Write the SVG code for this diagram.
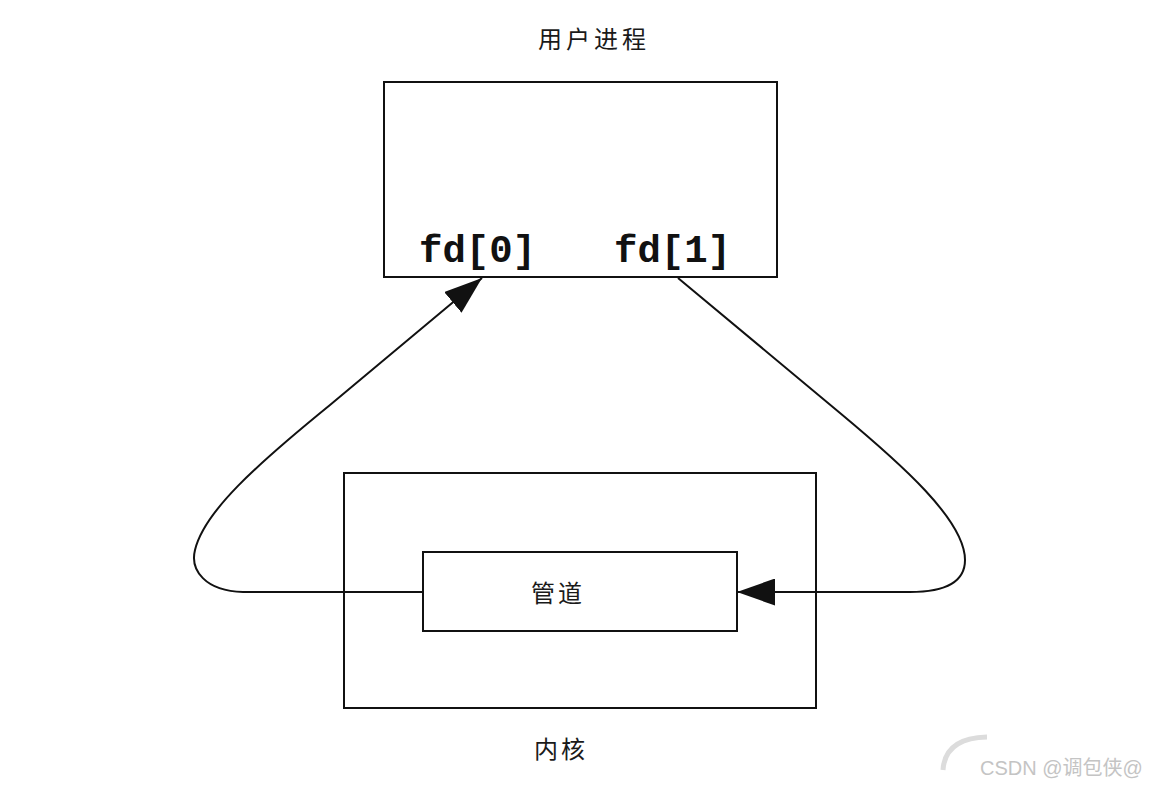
<svg xmlns="http://www.w3.org/2000/svg" width="1154" height="788" viewBox="0 0 1154 788">
<style>
.box{fill:none;stroke:#111;stroke-width:2}
.conn{fill:none;stroke:#111;stroke-width:2}
.cjk{font-family:"Liberation Sans","Noto Sans CJK SC",sans-serif;font-size:24px;fill:#1a1a1a;letter-spacing:3px}
.fd{font-family:"Liberation Mono",monospace;font-weight:bold;font-size:39px;fill:#111}
</style>
<defs>
<marker id="arr" viewBox="0 0 38 27" refX="38" refY="13.5" markerWidth="38" markerHeight="27" markerUnits="userSpaceOnUse" orient="auto">
<path d="M0 0 L38 13.5 L0 27 Z" fill="#111"/>
</marker>
</defs>
<rect width="1154" height="788" fill="#fff"/>
<g id="user-process">
<text class="cjk" x="538" y="48" style="letter-spacing:4px">用户进程</text>
<rect class="box" x="384" y="82" width="393" height="195"/>
<text class="fd" x="419" y="262">fd[0]</text>
<text class="fd" x="614" y="262">fd[1]</text>
</g>
<g id="kernel">
<rect class="box" x="344" y="473" width="472" height="235"/>
<text class="cjk" x="534" y="758">内核</text>
</g>
<g id="pipe">
<rect class="box" x="423" y="552" width="314" height="79" fill="#fff"/>
<text class="cjk" x="531" y="602">管道</text>
</g>
<g id="connectors">
<path class="conn" marker-end="url(#arr)" d="M423 592 L243 592 C205 591 190 570 195 550 C204 512 255 466 330 405 L482 278"/>
<path class="conn" marker-end="url(#arr)" d="M678 278 L840 413 C900 463 965 520 965 560 C965 585 940 592 910 592 L737 592"/>
</g>
<g id="watermark">
<path d="M943 770 Q945 738 987 737" fill="none" stroke="#dcdcdc" stroke-width="5"/>
<text x="980" y="775" font-family="Liberation Sans,'Noto Sans CJK SC',sans-serif" font-size="20" fill="#c4c4c4">CSDN @调包侠@</text>
</g>
</svg>
